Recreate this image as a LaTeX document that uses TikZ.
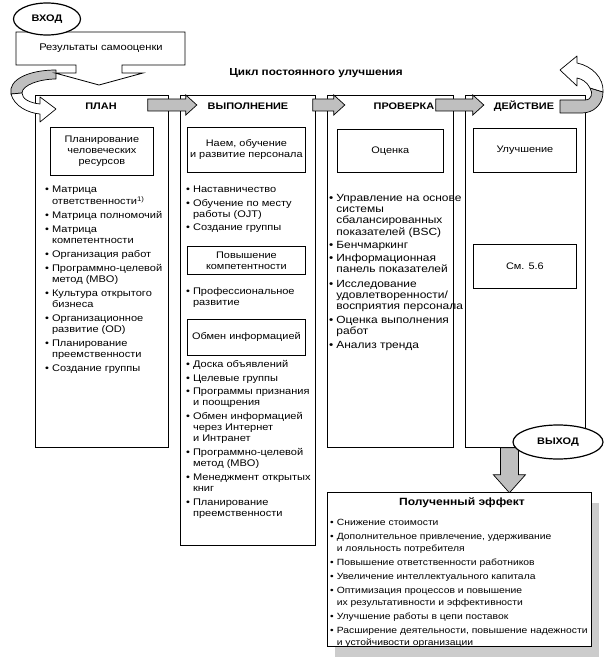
\documentclass[tikz,border=0pt]{standalone}
\usepackage{fontspec}
\setmainfont{Liberation Sans}[FakeStretch=1.15]
\usetikzlibrary{calc,shapes.geometric,shadows}

\tikzset{
	column/.style={draw, line width=0.8pt, fill=white, anchor=north west, inner sep=0pt},
	topic/.style={draw, line width=0.8pt, fill=white, anchor=north west, align=center, inner sep=0pt, font=\fontsize{9.5}{11}\selectfont},
	heading/.style={font=\bfseries\fontsize{9.5}{11}\selectfont},
	bullets/.style={anchor=north west, inner sep=0pt, font=\fontsize{9.6}{11}\selectfont},
	bigarrow/.style={draw, line width=0.7pt, fill=black!25},
	ribbon/.style={draw, line width=0.7pt, line join=round},
	oval/.style={draw, ellipse, line width=1.2pt, fill=white, inner sep=0pt, font=\bfseries\fontsize{9.5}{11}\selectfont}
}

\begin{document}
\begin{tikzpicture}[x=1pt, y=-1pt]
	\useasboundingbox (0,0) rectangle (605,660);

	% the four stages
	\node[column, minimum width=133pt, minimum height=352pt] (plan) at (35,95) {};
	\node[column, minimum width=135pt, minimum height=450pt] (exec) at (180,95) {};
	\node[column, minimum width=126pt, minimum height=352pt] (check) at (327,95) {};
	\node[column, minimum width=120pt, minimum height=352pt] (act) at (465,95) {};

	\node[heading, font=\bfseries\fontsize{10.2}{12}\selectfont] (cycle) at (316,73) {Цикл постоянного улучшения};
	\node[heading] (plantitle) at (101,106) {ПЛАН};
	\node[heading] (exectitle) at (248,106) {ВЫПОЛНЕНИЕ};
	\node[heading] (checktitle) at (404,106) {ПРОВЕРКА};
	\node[heading] (acttitle) at (524,106) {ДЕЙСТВИЕ};

	% topics inside the stages
	\node[topic, minimum width=103pt, minimum height=48pt] (hr) at (50,127) {Планирование\\человеческих\\ресурсов};
	\node[topic, minimum width=118pt, minimum height=45pt] (hire) at (187,127) {Наем, обучение\\и развитие персонала};
	\node[topic, minimum width=118pt, minimum height=28pt] (skill) at (187,246) {Повышение\\компетентности};
	\node[topic, minimum width=118pt, minimum height=36pt] (info) at (187,319) {Обмен информацией};
	\node[topic, minimum width=106pt, minimum height=43pt] (assess) at (337,129) {Оценка};
	\node[topic, minimum width=103pt, minimum height=44pt] (improve) at (473,128) {Улучшение};
	\node[topic, minimum width=103pt, minimum height=44pt] (see) at (473,244) {См. 5.6};

	\node[bullets] (planlist) at (45,185) {\begin{tabular}{@{}l@{\hspace{3pt}}l@{}}
		\textbullet & Матрица\\ & ответственности\textsuperscript{1)}\\[3pt]
		\textbullet & Матрица полномочий\\[3pt]
		\textbullet & Матрица\\ & компетентности\\[3pt]
		\textbullet & Организация работ\\[3pt]
		\textbullet & Программно-целевой\\ & метод (MBO)\\[3pt]
		\textbullet & Культура открытого\\ & бизнеса\\[3pt]
		\textbullet & Организационное\\ & развитие (OD)\\[3pt]
		\textbullet & Планирование\\ & преемственности\\[3pt]
		\textbullet & Создание группы
	\end{tabular}};
	\node[bullets] (hirelist) at (186,185) {\begin{tabular}{@{}l@{\hspace{3pt}}l@{}}
		\textbullet & Наставничество\\[2.5pt]
		\textbullet & Обучение по месту\\ & работы (OJT)\\[2.5pt]
		\textbullet & Создание группы
	\end{tabular}};
	\node[bullets] (skilllist) at (186,287) {\begin{tabular}{@{}l@{\hspace{3pt}}l@{}}
		\textbullet & Профессиональное\\ & развитие
	\end{tabular}};
	\node[bullets] (infolist) at (186,360) {\begin{tabular}{@{}l@{\hspace{3pt}}l@{}}
		\textbullet & Доска объявлений\\[2.5pt]
		\textbullet & Целевые группы\\[2.5pt]
		\textbullet & Программы признания\\ & и поощрения\\[2.5pt]
		\textbullet & Обмен информацией\\ & через Интернет\\ & и Интранет\\[3pt]
		\textbullet & Программно-целевой\\ & метод (MBO)\\[3pt]
		\textbullet & Менеджмент открытых\\ & книг\\[3pt]
		\textbullet & Планирование\\ & преемственности
	\end{tabular}};
	\node[bullets, font=\fontsize{10.4}{11.3}\selectfont] (checklist) at (329,193) {\begin{tabular}{@{}l@{\hspace{3pt}}l@{}}
		\textbullet & Управление на основе\\ & системы\\ & сбалансированных\\ & показателей (BSC)\\[2pt]
		\textbullet & Бенчмаркинг\\[2pt]
		\textbullet & Информационная\\ & панель показателей\\[3pt]
		\textbullet & Исследование\\ & удовлетворенности/\\ & восприятия персонала\\[2pt]
		\textbullet & Оценка выполнения\\ & работ\\[3pt]
		\textbullet & Анализ тренда
	\end{tabular}};

	% arrows from stage to stage
	\draw[bigarrow] ($(plan.north east)+(-21,4)$) -- ++(38,0) -- ++(0,-4) -- ++(11,10) -- ++(-11,10) -- ++(0,-4) -- ++(-38,0) -- cycle;
	\draw[bigarrow] ($(exec.north east)+(-3,4)$) -- ++(21,0) -- ++(0,-4) -- ++(11,10) -- ++(-11,10) -- ++(0,-4) -- ++(-21,0) -- cycle;
	\draw[bigarrow] ($(check.north east)+(-18,4)$) -- ++(37,0) -- ++(0,-4) -- ++(11,10) -- ++(-11,10) -- ++(0,-4) -- ++(-37,0) -- cycle;

	% turning arrows of the cycle
	\filldraw[ribbon, fill=black!25] (56,70) .. controls (28,70) and (8,80) .. (11,94) -- (22,93) .. controls (22,85) and (40,79) .. (56,79) -- cycle;
	\filldraw[ribbon, fill=white] (11,94) .. controls (14,106) and (28,113) .. (40,114) -- (40,122) -- (56,109) -- (40,97) -- (40,104) .. controls (30,103) and (22,99) .. (22,93) -- cycle;
	\filldraw[ribbon, fill=black!25] (560,100) -- (585,100) .. controls (592,100) and (593,93) .. (590,88) -- (603,92) .. controls (603,105) and (593,113) .. (582,113) -- (560,113) -- cycle;
	\filldraw[ribbon, fill=white] (590,88) .. controls (587,82) and (582,79) .. (577,78) -- (577,86) -- (560,70) -- (577,56) -- (577,63) .. controls (592,66) and (604,78) .. (603,92) -- cycle;

	% input
	\filldraw[line width=0.8pt, fill=white] (16,32) -- (185,32) -- (185,65) -- (122,65) -- (122,73) -- (143,73) -- (99,85) -- (55,73) -- (76,73) -- (76,65) -- (16,65) -- cycle;
	\node[font=\fontsize{9.7}{11}\selectfont] (selfassess) at (101,48) {Результаты самооценки};
	\node[oval, minimum width=67pt, minimum height=32pt] (in) at (47,19) {ВХОД};

	% output
	\draw[bigarrow] ($(act.south)+(-25,0)$) -- ++(0,27) -- ++(-7,0) -- ++(16,18) -- ++(16,-18) -- ++(-7,0) -- ++(0,-27) -- cycle;
	\node[oval, minimum width=90pt, minimum height=34pt] (out) at (558,442) {ВЫХОД};
	\node[column, minimum width=264pt, minimum height=154pt, drop shadow={shadow xshift=8pt, shadow yshift=-11pt, fill=black!20, opacity=1}] (effect) at (327,492) {};
	\node[font=\bfseries\fontsize{10.5}{12}\selectfont] (effecttitle) at (462,503) {Полученный эффект};
	\node[bullets, font=\fontsize{9}{12}\selectfont] (effectlist) at (330,517) {\begin{tabular}{@{}l@{\hspace{3pt}}l@{}}
		\textbullet & Снижение стоимости\\[2pt]
		\textbullet & Дополнительное привлечение, удерживание\\ & и лояльность потребителя\\[2pt]
		\textbullet & Повышение ответственности работников\\[2pt]
		\textbullet & Увеличение интеллектуального капитала\\[2pt]
		\textbullet & Оптимизация процессов и повышение\\ & их результативности и эффективности\\[2pt]
		\textbullet & Улучшение работы в цепи поставок\\[2pt]
		\textbullet & Расширение деятельности, повышение надежности\\ & и устойчивости организации
	\end{tabular}};
\end{tikzpicture}
\end{document}
